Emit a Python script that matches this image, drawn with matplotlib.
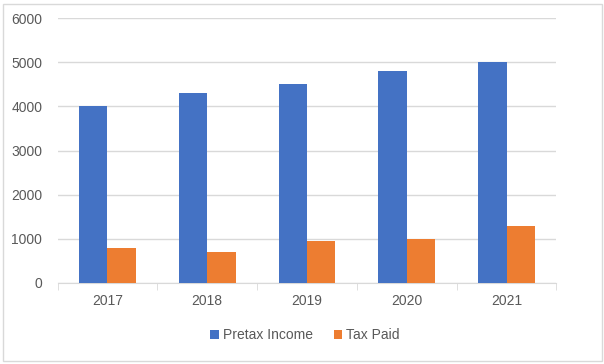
import numpy as np
import matplotlib
matplotlib.use("Agg")
import matplotlib.pyplot as plt
from matplotlib.patches import Rectangle

years = ['2017', '2018', '2019', '2020', '2021']
pretax_income = [4000, 4300, 4500, 4800, 5000]
tax_paid = [800, 700, 950, 1000, 1300]

blue = '#4472c4'
orange = '#ed7d31'
grid_c = '#d9d9d9'
text_c = '#595959'

plt.rcParams['font.family'] = ['Liberation Sans', 'DejaVu Sans']
plt.rcParams['font.size'] = 10

fig = plt.figure(figsize=(6.04, 3.64), dpi=100)
# chart area frame
fig.patches.append(Rectangle((3 / 604, 3 / 364), 599 / 604, 357 / 364, transform=fig.transFigure,
                             fill=False, edgecolor=grid_c, lw=1))

ax = fig.add_axes([57.5 / 604, (364 - 283) / 364, 499 / 604, 265 / 364])
x = np.arange(len(years))
w = 0.285
ax.bar(x - w / 2, pretax_income, w, color=blue, label='Pretax Income', zorder=3)
ax.bar(x + w / 2, tax_paid, w, color=orange, label='Tax Paid', zorder=3)

ax.set_xlim(-0.5, len(years) - 0.5)
ax.set_ylim(0, 6000)
ax.set_yticks(range(0, 6001, 1000))
ax.yaxis.grid(True, color=grid_c, lw=1, zorder=0)
for s in ['top', 'right', 'left']:
    ax.spines[s].set_visible(False)
ax.spines['bottom'].set_color(grid_c)
ax.tick_params(axis='y', length=0, colors=text_c, pad=11)
ax.set_xticks(x)
ax.set_xticklabels(years)
ax.set_xticks(np.arange(-0.5, len(years)), minor=True)
ax.tick_params(axis='x', which='major', length=0, colors=text_c, pad=8)
ax.tick_params(axis='x', which='minor', length=5, color=grid_c)

fig.legend(loc='center', bbox_to_anchor=(305 / 604, (364 - 335) / 364), ncol=2, frameon=False,
           handlelength=0.6, handleheight=0.6, handletextpad=0.3, columnspacing=1.5,
           labelcolor=text_c)

fig.savefig('out.png', dpi=100)
